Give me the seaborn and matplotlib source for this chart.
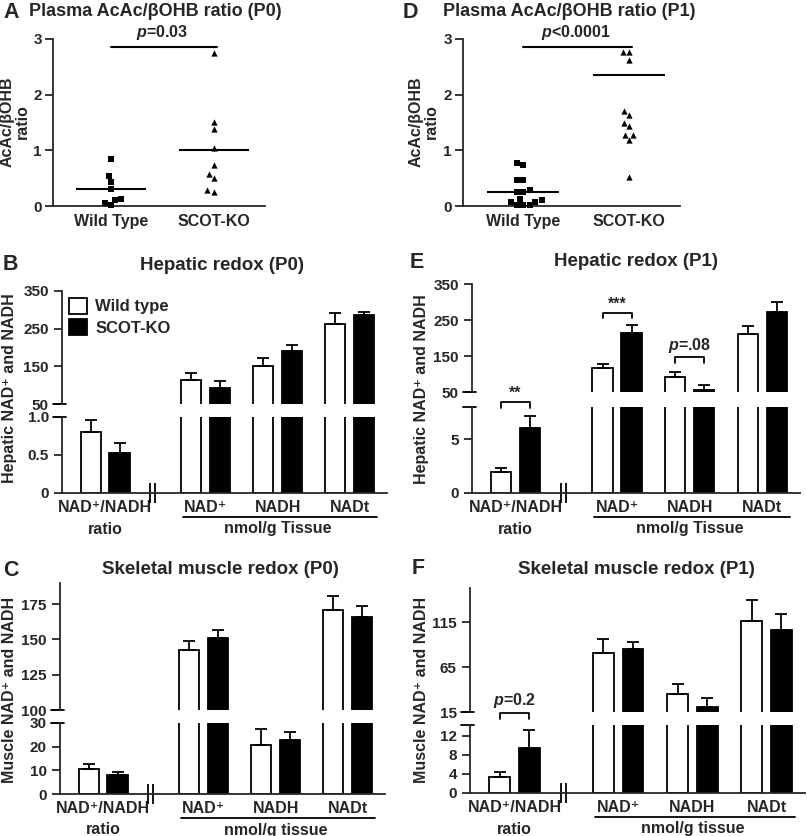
import numpy as np
import pandas as pd
import matplotlib.pyplot as plt
import matplotlib.transforms as mtransforms
from matplotlib.patches import Patch
import seaborn as sns

# ---- values ----
groups = ['Wild Type', 'SCOT-KO']
genotypes = ['Wild type', 'SCOT-KO']
measures = ['NAD⁺/NADH', 'NAD⁺', 'NADH', 'NADt']

# A: plasma AcAc/bOHB ratio, P0
a_wt = [0.84, 0.54, 0.43, 0.30, 0.10, 0.01, 0.06, 0.13]
a_ko = [2.75, 1.51, 1.38, 1.05, 0.74, 0.58, 0.50, 0.26, 0.29]
a_lines = [0.30, 1.00]

# D: plasma AcAc/bOHB ratio, P1
d_wt = [0.78, 0.74, 0.47, 0.47, 0.25, 0.25, 0.28, 0.12, 0.08, 0.02, 0.02, 0.02, 0.07, 0.10]
d_ko = [2.77, 2.77, 2.63, 1.71, 1.64, 1.49, 1.43, 1.28, 1.28, 1.19, 0.52]
d_lines = [0.25, 2.35]

# B: hepatic redox P0
b_wt = [0.80, 113, 152, 263]
b_wt_err = [0.165, 18, 20, 28]
b_ko = [0.53, 93, 192, 285]
b_ko_err = [0.125, 18, 15, 8]

# E: hepatic redox P1
e_wt = [1.91, 117, 92, 210]
e_wt_err = [0.44, 11, 14, 22]
e_ko = [6.08, 214, 56.5, 272]
e_ko_err = [1.05, 21, 12, 29]

# C: skeletal muscle redox P0
c_wt = [10.75, 142.5, 20.5, 171]
c_wt_err = [1.85, 6.7, 7.1, 9.5]
c_ko = [7.9, 150.8, 22.8, 165.6]
c_ko_err = [1.3, 6.2, 3.2, 8]

# F: skeletal muscle redox P1
f_wt = [3.44, 80.4, 35.4, 116.5]
f_wt_err = [0.9, 15.3, 11.2, 23.4]
f_ko = [9.33, 84.9, 20.9, 106.4]
f_ko_err = [3.9, 7.8, 10.1, 17.5]

# ---- style ----
sns.set_style('ticks')
plt.rcParams['font.family'] = ['Liberation Sans', 'DejaVu Sans']
plt.rcParams['font.weight'] = 'bold'
plt.rcParams['axes.linewidth'] = 1.3
plt.rcParams['mathtext.fontset'] = 'custom'
plt.rcParams['mathtext.it'] = 'Liberation Sans:italic:bold'
plt.rcParams['mathtext.rm'] = 'Liberation Sans:bold'

LW = 1.3
bar_colors = {'Wild type': 'white', 'SCOT-KO': 'black'}
xpos = {'NAD⁺/NADH': 0.0, 'NAD⁺': 1.4, 'NADH': 2.4, 'NADt': 3.4}

W, H = 807, 836
fig = plt.figure(figsize=(W / 100, H / 100), dpi=100)


def box(l, t, r, b):
    return [l / W, 1 - b / H, (r - l) / W, (b - t) / H]


def ftext(x, y, s, **kw):
    fig.text(x / W, 1 - y / H, s, **kw)


def bold_ticks(ax):
    for t in ax.get_xticklabels() + ax.get_yticklabels():
        t.set_fontweight('bold')


def scatter_panel(rect, wt, ko, lines, ptext, xlim):
    ax = fig.add_axes(box(*rect))
    for vals, grp, mk in [(wt, groups[0], 's'), (ko, groups[1], '^')]:
        sns.swarmplot(x=[grp] * len(vals), y=vals, order=groups, marker=mk,
                      color='black', size=4.5, ax=ax, clip_on=False)
    for i, m in enumerate(lines):
        ax.hlines(m, i - 0.34, i + 0.34, color='black', lw=1.5)
    ax.plot([0, 1.03], [2.86, 2.86], color='black', lw=1.5, clip_on=False)
    ax.text(0.5, 3.12, ptext, ha='center', va='center', fontsize=11.5)
    ax.set_xlim(*xlim)
    ax.set_ylim(0, 3)
    ax.set_yticks([0, 1, 2, 3])
    ax.set_xlabel('')
    ax.set_ylabel('')
    sns.despine(ax=ax)
    ax.tick_params(axis='x', length=0, pad=6, labelsize=11.5)
    ax.tick_params(axis='y', length=6, width=LW, labelsize=11, pad=2)
    bold_ticks(ax)
    return ax


def bar_panel(up, low, wt, wt_err, ko, ko_err, ulim, uticks, llim, lticks, lticklabels, tissue):
    df = pd.DataFrame({
        'x': [xpos[m] for m in measures] * 2,
        'genotype': np.repeat(genotypes, len(measures)),
        'value': wt + ko,
        'err': wt_err + ko_err,
    })
    err_by_height = {round(v, 4): e for v, e in zip(df['value'], df['err'])}
    axes = []
    for rect, lim in [(up, ulim), (low, llim)]:
        ax = fig.add_axes(box(*rect))
        sns.barplot(data=df, x='x', y='value', hue='genotype', hue_order=genotypes,
                    palette=bar_colors, native_scale=True, width=0.8, gap=0.3,
                    errorbar=None, saturation=1, edgecolor='black', linewidth=LW,
                    legend=False, ax=ax)
        for p in list(ax.patches):
            key = round(p.get_height(), 4)
            if p.get_width() > 0 and key in err_by_height:
                xc = p.get_x() + p.get_width() / 2
                ax.errorbar(xc, p.get_height(), yerr=[[0], [err_by_height[key]]], fmt='none',
                            ecolor='black', elinewidth=LW, capsize=4.5, capthick=LW)
        ax.set_xlim(-0.6, 3.92)
        ax.set_ylim(*lim)
        ax.set_xlabel('')
        ax.set_ylabel('')
        ax.tick_params(axis='y', length=6, width=LW, labelsize=11)
        axes.append(ax)
    ua, la = axes
    sns.despine(ax=ua, bottom=True)
    ua.set_xticks([])
    ua.set_yticks(uticks)
    sns.despine(ax=la)
    la.set_yticks(lticks, lticklabels)
    la.set_xticks([xpos[m] for m in measures], measures)
    la.tick_params(axis='x', length=0, pad=5, labelsize=11.5)
    bold_ticks(ua)
    bold_ticks(la)
    # axis break marks
    ua.plot([-0.028, 0.012], [0, 0], transform=ua.transAxes, color='black', lw=LW, clip_on=False)
    la.plot([-0.028, 0.012], [1, 1], transform=la.transAxes, color='black', lw=LW, clip_on=False)
    la.plot([0.63, 0.70], [llim[0]] * 2, ls='none', marker='|', ms=14, mew=LW,
            color='black', clip_on=False)
    # second row of group labels
    tr = mtransforms.offset_copy(la.get_xaxis_transform(), fig=fig, y=-24, units='dots')
    la.plot([1.08, 3.78], [0, 0], transform=tr, color='black', lw=LW, clip_on=False)
    tr2 = mtransforms.offset_copy(la.get_xaxis_transform(), fig=fig, y=-36, units='dots')
    la.text(0, 0, 'ratio', transform=tr2, ha='center', va='center', fontsize=11.5)
    la.text(2.4, 0, 'nmol/g ' + tissue, transform=tr2, ha='center', va='center', fontsize=11.5)
    return ua, la


def bracket(ax, x, ytop, yleg, text, ytext):
    ax.plot([x - 0.2, x - 0.2, x + 0.2, x + 0.2], [yleg, ytop, ytop, yleg],
            color='black', lw=LW, clip_on=False)
    ax.text(x, ytext, text, ha='center', va='bottom', fontsize=11.5)


# ---- A and D ----
scatter_panel((53, 39, 265, 206), a_wt, a_ko, a_lines, r'$\mathit{p}$=0.03', (-0.56, 1.5))
scatter_panel((463, 39, 680, 206), d_wt, d_ko, d_lines, r'$\mathit{p}$<0.0001', (-0.57, 1.48))
ftext(3, 12, 'A', fontsize=15.5, va='center')
ftext(29, 12, 'Plasma AcAc/βOHB ratio (P0)', fontsize=13, va='center')
ftext(403, 12, 'D', fontsize=15.5, va='center')
ftext(443, 12, 'Plasma AcAc/βOHB ratio (P1)', fontsize=13, va='center')
ftext(15, 122, 'AcAc/βOHB\nratio', rotation=90, fontsize=11.5, ha='center', va='center', linespacing=1.0)
ftext(424, 122, 'AcAc/βOHB\nratio', rotation=90, fontsize=11.5, ha='center', va='center', linespacing=1.0)

# ---- B ----
ub, lb = bar_panel((62, 291, 387, 404), (62, 417, 387, 493), b_wt, b_wt_err, b_ko, b_ko_err,
                   (50, 350), [50, 150, 250, 350], (0, 1.0), [0, 0.5, 1.0], ['0', '0.5', '1.0'], 'Tissue')
ub.legend(handles=[Patch(facecolor='white', edgecolor='black', lw=LW, label='Wild type'),
                   Patch(facecolor='black', edgecolor='black', lw=LW, label='SCOT-KO')],
          loc='upper left', bbox_to_anchor=(0.0, 1.0), frameon=False,
          prop={'size': 12, 'weight': 'bold'},
          handlelength=1.1, handleheight=1.1, handletextpad=0.5, borderaxespad=0, labelspacing=0.3)
ftext(3, 264, 'B', fontsize=15.5, va='center')
ftext(222, 265, 'Hepatic redox (P0)', fontsize=13.5, ha='center', va='center')
ftext(10, 388, 'Hepatic NAD⁺ and NADH', rotation=90, fontsize=11.5, ha='center', va='center')

# ---- E ----
ue, le = bar_panel((472, 284, 800, 392), (472, 407, 800, 493), e_wt, e_wt_err, e_ko, e_ko_err,
                   (50, 350), [50, 150, 250, 350], (0, 8), [0, 5], ['0', '5'], 'Tissue')
bracket(le, xpos['NAD⁺/NADH'], 8.47, 7.95, '**', 8.6)
bracket(ue, xpos['NAD⁺'], 270, 255, '***', 274)
bracket(ue, xpos['NADH'], 147, 131, r'$\mathit{p}$=.08', 152)
ftext(410, 263, 'E', fontsize=15.5, va='center')
ftext(636, 261, 'Hepatic redox (P1)', fontsize=13.5, ha='center', va='center')
ftext(421, 389, 'Hepatic NAD⁺ and NADH', rotation=90, fontsize=11.5, ha='center', va='center')

# ---- C ----
uc, lc = bar_panel((60, 583, 385, 710), (60, 723, 385, 794), c_wt, c_wt_err, c_ko, c_ko_err,
                   (100, 190), [100, 125, 150, 175], (0, 30), [0, 10, 20, 30],
                   ['0', '10', '20', '30'], 'tissue')
ftext(3, 570, 'C', fontsize=15.5, va='center')
ftext(220, 570, 'Skeletal muscle redox (P0)', fontsize=13.5, ha='center', va='center')
ftext(10, 690, 'Muscle NAD⁺ and NADH', rotation=90, fontsize=11.5, ha='center', va='center')

# ---- F ----
uf, lf = bar_panel((470, 588, 805, 712), (470, 725, 805, 793), f_wt, f_wt_err, f_ko, f_ko_err,
                   (15, 153), [15, 65, 115], (0, 14.25), [0, 4, 8, 12],
                   ['0', '4', '8', '12'], 'tissue')
bracket(lf, xpos['NAD⁺/NADH'], 16.8, 15.5, r'$\mathit{p}$=0.2', 17.3)
ftext(412, 568, 'F', fontsize=15.5, va='center')
ftext(636, 570, 'Skeletal muscle redox (P1)', fontsize=13.5, ha='center', va='center')
ftext(421, 690, 'Muscle NAD⁺ and NADH', rotation=90, fontsize=11.5, ha='center', va='center')

fig.savefig('out.png', dpi=100)
